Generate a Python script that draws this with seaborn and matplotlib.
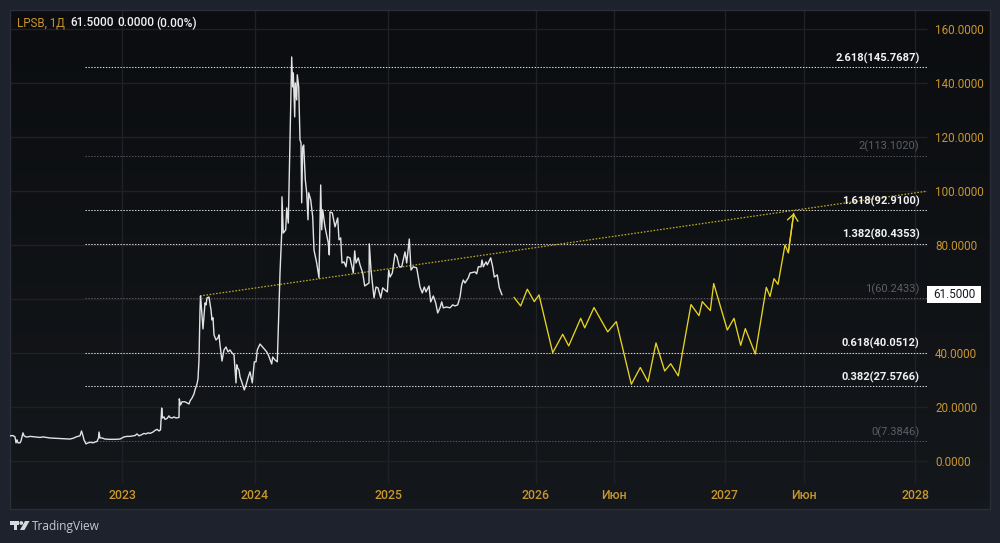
import matplotlib
matplotlib.use("Agg")
import matplotlib.pyplot as plt
from matplotlib.patches import Circle, Polygon, Rectangle
from matplotlib.transforms import Affine2D
import numpy as np
import pandas as pd
import seaborn as sns

# Daily close of LPSB along the chart's bar-based time scale
time_pos = [0, 3, 5, 6, 7, 8, 10, 11, 13, 14, 16, 18, 20, 25, 30, 33, 40, 50, 60, 64, 66, 70, 71.5, 73, 74, 76, 78, 81, 83, 85, 87, 88.5, 89, 90, 92, 95, 100, 105, 110, 114, 117, 120, 125, 127, 129, 131, 134, 136, 138, 140, 143, 145, 147, 149, 150.5, 151.7, 152.5, 154, 155, 157, 159, 160, 162, 164, 166, 169, 169.3, 170.5, 172, 175, 177, 179, 180, 182, 184, 185, 187, 188, 189, 190, 190.5, 191, 193, 195, 196, 197, 199, 201, 202, 203, 204, 206, 208, 209, 210, 212, 214, 216, 218, 220, 222, 224, 226, 226.7, 227.7, 229, 230, 231.7, 234.3, 236, 238.3, 240, 242.3, 244.3, 246, 247.3, 250, 253.3, 256.7, 258.3, 261.7, 262.7, 265, 267.3, 269.3, 270, 271.7, 272, 273.3, 275.7, 276.7, 278.3, 280, 281.7, 282.7, 283.3, 284.7, 285.3, 286.7, 287.3, 288.7, 290, 291, 291.7, 292.7, 293.7, 295.3, 296.7, 298, 298.7, 300.7, 302.7, 304, 306.7, 309, 310.7, 311.7, 312.7, 315, 318.3, 319.3, 320, 322.3, 325, 327.7, 329, 330.7, 332, 334, 336, 337.3, 340, 342, 343.3, 344.7, 346, 348.3, 350, 352.7, 354.7, 359, 359.3, 361, 364, 366, 368, 370.7, 372.7, 375, 377.3, 378.7, 380, 382.3, 385, 387, 389.3, 391.7, 395, 396.7, 399.3, 401, 403.3, 406.7, 410, 412.3, 414.3, 416, 419, 420.7, 423.3, 425.7, 427.7, 430, 431.7, 433.3, 436.7, 440, 442.7, 445, 447.7, 450, 451.7, 453.3, 455, 458.3, 460, 465, 466.7, 468.3, 471, 472, 473.3, 476, 477.3, 480.7, 482.7, 484.3, 487.3, 489.3, 492]
close = [9.3, 9.4, 8.9, 6.7, 7.8, 6.7, 6.7, 7.4, 10.4, 9.3, 8.9, 8.9, 9.1, 8.9, 8.7, 8.9, 8.5, 8.3, 8.1, 8.5, 8.9, 9.3, 11.1, 9.3, 7.8, 6.3, 6.7, 6.9, 6.7, 7.0, 7.2, 8.5, 10.7, 8.5, 8.5, 8.1, 8.0, 8.0, 8.1, 8.9, 9.1, 9.1, 9.4, 10, 9.3, 9.6, 10.2, 10, 10.4, 10.2, 10.7, 11.3, 11.7, 11.1, 11.5, 19.6, 15.9, 16.3, 15.4, 15.7, 16.7, 16.1, 15.9, 16.3, 15.9, 16.1, 23, 20.7, 21.9, 21.9, 21.5, 21.1, 22.2, 23.3, 24.8, 26.3, 28.5, 30.4, 37.4, 55.9, 61.1, 58.9, 48.9, 58.5, 57.8, 60.4, 60.7, 55.9, 52.2, 53, 46.7, 44.8, 45.6, 46.7, 43, 37, 41.1, 42.2, 40.4, 41.1, 40, 39.3, 28.9, 35.6, 34.4, 33.7, 31.1, 29.3, 26.3, 28.1, 31.1, 33, 28.9, 36.7, 36.7, 41.1, 43.3, 41.9, 40.4, 39.3, 35.9, 38.5, 37.4, 36.7, 60.7, 69.6, 84.4, 97.8, 84.4, 85.6, 93.7, 88.1, 118.9, 149.6, 138.5, 143.7, 127.4, 140, 133.7, 143, 138.5, 118.9, 117.8, 95.6, 116.3, 117, 104.1, 99.3, 89.3, 99.3, 96.7, 90.4, 78.1, 73.3, 67.8, 102.2, 85.6, 93, 86.7, 80.7, 76.3, 92.2, 91.9, 86.7, 90, 81.9, 82.6, 73.3, 73.7, 71.9, 75.6, 75.2, 71.9, 69.6, 77.8, 73.3, 75.2, 72.6, 69.6, 64.8, 65.9, 80.4, 70.7, 60.4, 64.4, 64.1, 60.4, 64.1, 63.3, 62.6, 70.7, 68.1, 69.6, 76.7, 75.6, 71.9, 71.9, 77.4, 73.3, 82.2, 70.7, 71.9, 71.5, 64.4, 62.2, 64.4, 62.6, 64.8, 58.9, 61.1, 58.5, 54.8, 56.7, 58.9, 56.7, 57, 56.7, 57.8, 57.4, 57.8, 60.7, 65.2, 67, 65.9, 67.8, 69.6, 70, 69.3, 71.9, 71.9, 74.4, 71.9, 73.7, 72.6, 75.2, 71.9, 68.1, 68.9, 64.1, 61.5]

# Hand-drawn projected path
forecast_pos = [504, 510.7, 517.3, 524.3, 529, 542.7, 552.7, 558.7, 570.7, 574.7, 584, 597.7, 606.3, 621.3, 630.3, 638, 646, 654.7, 660.7, 668.3, 681, 689, 692.3, 700.3, 703.7, 717.3, 724, 730.7, 735.3, 745.3, 756.3, 760, 764, 768, 775, 778.3, 783.7]
forecast = [60.6, 57.4, 63.6, 59, 61.5, 40.1, 46.9, 42.6, 52.8, 49.3, 56.8, 47.8, 51.6, 28.4, 34.6, 29.3, 43.7, 33.3, 36, 31.5, 57.9, 53.8, 59, 55.7, 65.7, 48.5, 52.8, 42.8, 49, 39.6, 64.3, 60.9, 67.5, 65.4, 80, 77.1, 91.7]

# Trend line through the 2023 high
trend_pos = [190, 917]
trend_val = [61.1, 99.9]

# Fibonacci extension levels
fib_ratio = ["2.618", "2", "1.618", "1.382", "1", "0.618", "0.382", "0"]
fib_price = [145.7687, 113.1020, 92.9100, 80.4353, 60.2433, 40.0512, 27.5766, 7.3846]
fib_key = [True, False, True, True, False, True, True, False]

# Axis ticks
price_ticks = [160, 140, 120, 100, 80, 60, 40, 20, 0]
price_tick_hidden = [60]
time_ticks = [112.3, 244.7, 378, 525.7, 603.7, 714.7, 794.3, 905]
time_labels = ["2023", "2024", "2025", "2026", "Июн", "2027", "Июн", "2028"]

ticker = "LPSB, 1Д"
last_price = 61.5

W, H = 1000, 543
PANE_BG_TOP = "#0b0d10"
PANE_BG_BOTTOM = "#14171b"
OUTER_BG = "#1e222d"
GOLD = "#c8962e"
GRID = "#1e2125"
EDGE = "#2a2e39"
END_X = 917          # right end of the plotting region on the time scale

sns.set_theme(style="dark")
plt.rcParams["font.family"] = ["Roboto", "DejaVu Sans"]

fig = plt.figure(figsize=(W / 100, H / 100), dpi=100, facecolor=OUTER_BG)
ax = fig.add_axes([10 / W, 1 - 509 / H, 980 / W, 499 / H])
ax.set_xlim(0, 980)
ax.set_ylim(-17.8, 167.0)

# Pane background darkens slightly towards the top
gradient = np.linspace(0, 1, 64).reshape(-1, 1)
cmap = matplotlib.colors.LinearSegmentedColormap.from_list("pane", [PANE_BG_TOP, PANE_BG_BOTTOM])
ax.imshow(gradient, extent=(0, 980, -17.8, 167.0), aspect="auto", origin="upper", cmap=cmap, zorder=0)

# Grid stops short of the price and time scales
ax.hlines(price_ticks, 0, END_X, color=GRID, lw=1, zorder=1)
ax.vlines(time_ticks, -8, 167, color=GRID, lw=1, zorder=1)

# Fibonacci levels and their labels
for ratio, price, key in zip(fib_ratio, fib_price, fib_key):
    ax.hlines(price, 75, END_X, color="#dcdcdc" if key else "#55585d",
              lw=0.75, linestyles=(0, (1.3, 1.5)), zorder=2)
    ax.annotate(f"{ratio}({price:.4f})", xy=(909.5, price), xytext=(0, 2.5),
                textcoords="offset points", ha="right", va="bottom",
                fontsize=8, fontweight="bold" if key else "normal",
                color="#f2f2f2" if key else "#5b5e64", zorder=6)

# Trend line
trend = pd.DataFrame({"t": trend_pos, "v": trend_val})
ax.plot(trend["t"], trend["v"], color="#bfa820", lw=0.9, ls=(0, (1.3, 1.3)), zorder=3)

# Price history
history = pd.DataFrame({"t": time_pos, "close": close})
sns.lineplot(data=history, x="t", y="close", ax=ax, estimator=None, sort=False,
             color="#e2e2e2", lw=1.0, zorder=4)

# Projected path with an arrow on its last leg
path = pd.DataFrame({"t": forecast_pos, "close": forecast})
sns.lineplot(data=path, x="t", y="close", ax=ax, estimator=None, sort=False,
             color="#e6d322", lw=0.95, zorder=4)
ax.annotate("", xy=(forecast_pos[-1], forecast[-1]), xytext=(forecast_pos[-2], forecast[-2]),
            arrowprops=dict(arrowstyle="->,head_length=0.38,head_width=0.32", color="#e6d322",
                            lw=0.95, shrinkA=0, shrinkB=0), zorder=4)

# Scales drawn inside the pane, in the TradingView manner
ax.set_xlabel("")
ax.set_ylabel("")
ax.yaxis.tick_right()
ax.set_yticks(price_ticks)
ax.set_yticklabels([f"{v:.4f}" if v not in price_tick_hidden else "" for v in price_ticks])
ax.set_xticks(time_ticks)
ax.set_xticklabels(time_labels)
ax.tick_params(axis="y", length=0, pad=-39.6, labelsize=8.4, labelcolor=GOLD)
ax.tick_params(axis="x", length=0, pad=-14.6, labelsize=8.8, labelcolor=GOLD)
for label in ax.get_yticklabels():
    label.set_ha("left")
    label.set_va("center_baseline")
for label in ax.get_xticklabels():
    label.set_fontweight("medium")
for spine in ax.spines.values():
    spine.set_color(EDGE)
    spine.set_linewidth(1)

# Last-price tag on the price scale
ax.add_patch(Rectangle((917, 58.5), 54, 6.3, fc="white", ec="none", zorder=7))
ax.text(944, 61.6, f"{last_price:.4f}", ha="center", va="center", fontsize=8.4,
        color="#131722", zorder=8)

# Legend line at the top left
header_y = 1 - 23 / H
fig.text(17 / W, header_y, ticker, color=GOLD, fontsize=8.3, va="center")
fig.text(70 / W, header_y, f"{last_price:.4f}", color="#f0f0f0", fontsize=8.5, va="center", fontweight="medium")
fig.text(117 / W, header_y, "0.0000", color="#f0f0f0", fontsize=8.5, va="center", fontweight="medium")
fig.text(156 / W, header_y, "(0.00%)", color="#f0f0f0", fontsize=8.5, va="center", fontweight="medium")

# TradingView mark and wordmark in the footer, placed in screen pixels
px = Affine2D().scale(1, -1).translate(0, H)
mark = "#d6d9df"
fig.add_artist(Rectangle((9.5, 521), 9.5, 3.6, fc=mark, ec="none", transform=px))
fig.add_artist(Rectangle((13.5, 521), 3.6, 9, fc=mark, ec="none", transform=px))
fig.add_artist(Circle((21.3, 523), 1.9, fc=mark, ec="none", transform=px))
fig.add_artist(Polygon([(25, 521), (29.5, 521), (24.5, 530), (20, 530)], closed=True, fc=mark, ec="none", transform=px))
fig.text(32 / W, 1 - 526.5 / H, "TradingView", color="#c4c8d0", fontsize=8.6, va="center",
         family=["Open Sans", "DejaVu Sans"])

fig.savefig("out.png", dpi=100, facecolor=fig.get_facecolor())
